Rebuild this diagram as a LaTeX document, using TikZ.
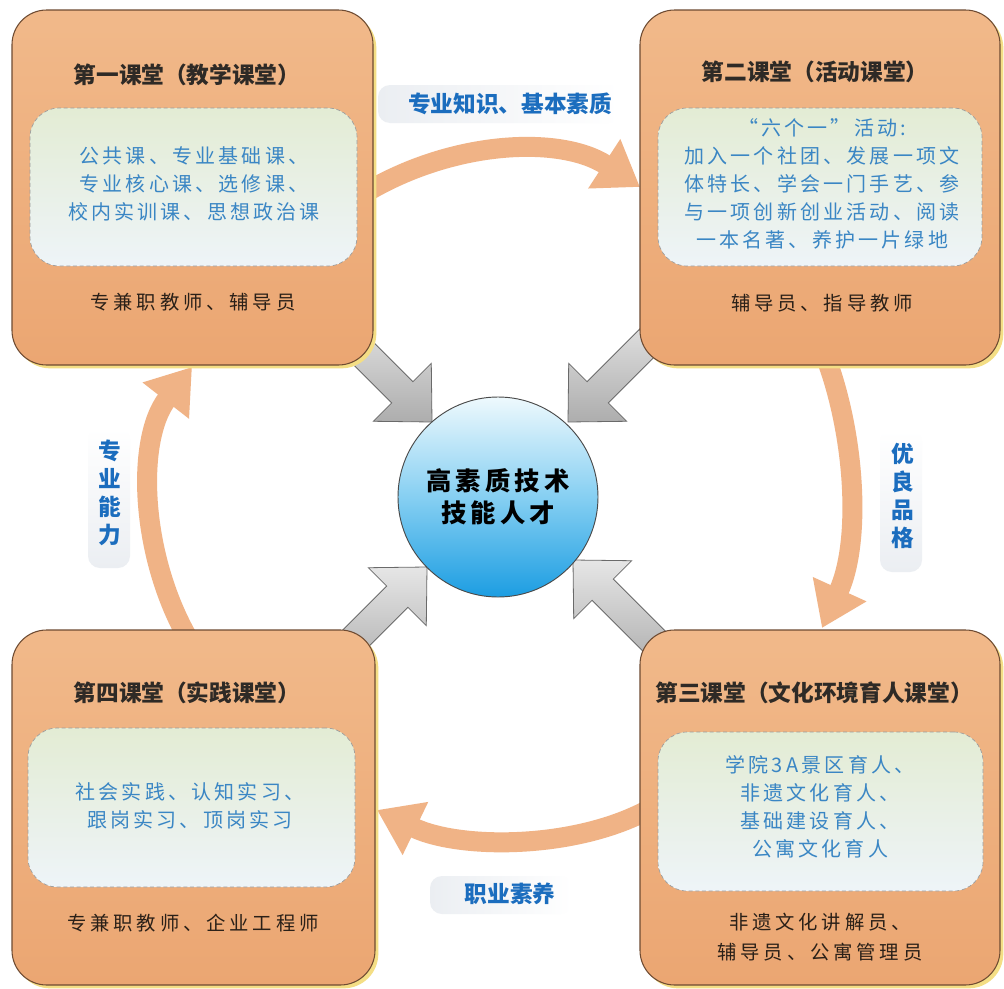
\documentclass[tikz,border=0pt]{standalone}
\usepackage{fontspec}
\setmainfont{Noto Sans CJK SC}
\newfontfamily\spacedfont[LetterSpace=16]{Noto Sans CJK SC}
\newfontfamily\staffont[LetterSpace=20]{Noto Sans CJK SC}
\usetikzlibrary{arrows.meta,shadows,fit}
\definecolor{boxorangetop}{HTML}{F1B98A}
\definecolor{boxorangebot}{HTML}{EBA672}
\definecolor{boxedge}{HTML}{6E4B32}
\definecolor{boxshadow}{HTML}{F4DE85}
\definecolor{innertop}{HTML}{E3ECD4}
\definecolor{innerbot}{HTML}{EEF4F8}
\definecolor{inneredge}{HTML}{9C9C9C}
\definecolor{innertext}{HTML}{3A86C4}
\definecolor{darktext}{HTML}{2A2018}
\definecolor{titlegrey}{HTML}{2E2A26}
\definecolor{labelblue}{HTML}{1B6DBE}
\definecolor{flowarrow}{HTML}{F0B386}
\definecolor{greylight}{HTML}{E6E6E6}
\definecolor{greydark}{HTML}{ADADAD}
\definecolor{greyedge}{HTML}{6A6A6A}
\definecolor{circtop}{HTML}{EEF9FD}
\definecolor{circmid}{HTML}{86CFF2}
\definecolor{circbot}{HTML}{1C9DE2}
\definecolor{circedge}{HTML}{4A4A4A}
\definecolor{labelbg}{HTML}{EBEEF2}
\tikzset{
 classbox/.style={draw=boxedge, line width=0.8pt, rounded corners=26pt, top color=boxorangetop, bottom color=boxorangebot, inner sep=0pt,
   drop shadow={shadow xshift=2.5pt, shadow yshift=-2.5pt, fill=boxshadow, opacity=1}},
 innerbox/.style={draw=inneredge, densely dashed, line width=0.5pt, rounded corners=22pt, top color=innertop, bottom color=innerbot, inner sep=0pt},
 titletext/.style={font=\bfseries\fontsize{17}{20}\selectfont, text=titlegrey},
 innertxt/.style={font=\spacedfont\fontsize{15}{21}\selectfont, text=innertext, align=center},
 stafftext/.style={font=\staffont\fontsize{14.5}{22.5}\selectfont, text=darktext, align=center},
 flowlabel/.style={font=\bfseries\fontsize{17}{21}\selectfont, text=labelblue, align=center},
 labelbgbox/.style={rounded corners=9pt, inner sep=0pt},
 flow/.style={draw=flowarrow, line width=15pt, -{Triangle[width=42pt,length=32pt]}},
 graytip/.style={draw=greyedge, line width=0.6pt, top color=greylight, bottom color=greydark},
 hubcircle/.style={circle, draw=circedge, line width=0.7pt, top color=circtop, bottom color=circbot, middle color=circmid,
   minimum size=150pt, inner sep=0pt, align=center, font=\bfseries\spacedfont\fontsize{19}{24}\selectfont, text=black},
}
\begin{document}
\begin{tikzpicture}[x=0.75pt,y=-0.75pt]
\useasboundingbox (0,0) rectangle (1004,989);
\fill[white] (0,0) rectangle (1004,989);

% flow arrows (orange)
\coordinate (f1s) at (360,196);
\coordinate (f1e) at (640,187);
\coordinate (f2s) at (823,350);
\coordinate (f2e) at (822,628);
\coordinate (f3s) at (655,806);
\coordinate (f3e) at (377,810);
\coordinate (f4s) at (192,645);
\coordinate (f4e) at (192,367);
\draw[flow] (f1s) .. controls (450,140) and (560,135) .. (f1e);
\draw[flow] (f2s) .. controls (855,430) and (862,540) .. (f2e);
\draw[flow] (f3s) .. controls (580,850) and (460,850) .. (f3e);
\draw[flow] (f4s) .. controls (140,560) and (135,440) .. (f4e);

% grey block arrows into the hub
\coordinate (g1) at (432,422);
\coordinate (g2) at (568,422);
\coordinate (g3) at (427,567);
\coordinate (g4) at (573,560);
\foreach \g/\ang in {g1/-45, g2/-135, g3/45, g4/135}{
  \begin{scope}[shift={(\g)}, rotate=\ang]
    \draw[graytip] (0,0) -- (-42,41) -- (-42,15) -- (-140,15) -- (-140,-15) -- (-42,-15) -- (-42,-41) -- cycle;
  \end{scope}
}

% four class boxes
\node[classbox, fit={(12,10) (373,365)}] (b1) {};
\node[classbox, fit={(640,10) (1000,365)}] (b2) {};
\node[classbox, fit={(640,630) (1000,985)}] (b3) {};
\node[classbox, fit={(12,630) (375,985)}] (b4) {};

\node[innerbox, fit={(30,108) (357,266)}] (in1) {};
\node[innerbox, fit={(658,108) (982,266)}] (in2) {};
\node[innerbox, fit={(658,732) (983,891)}] (in3) {};
\node[innerbox, fit={(28,728) (355,887)}] (in4) {};

\node[titletext] (t1) at (187,75) {第一课堂（教学课堂）};
\node[titletext] (t2) at (815,72) {第二课堂（活动课堂）};
\node[titletext] (t3) at (814,693) {第三课堂（文化环境育人课堂）};
\node[titletext] (t4) at (187,693) {第四课堂（实践课堂）};

\node[innertxt] (c1) at (194,184) {公共课、专业基础课、\\专业核心课、选修课、\\校内实训课、思想政治课};
\node[innertxt] (c2) at (822,184) {“六个一”活动:\\加入一个社团、发展一项文\\体特长、学会一门手艺、参\\与一项创新创业活动、阅读\\一本名著、养护一片绿地};
\node[innertxt] (c3) at (820,807) {学院3A景区育人、\\非遗文化育人、\\基础建设育人、\\公寓文化育人};
\node[innertxt] (c4) at (190,806) {社会实践、认知实习、\\跟岗实习、顶岗实习};

\node[stafftext] (s1) at (193,302) {专兼职教师、辅导员};
\node[stafftext] (s2) at (822,303) {辅导员、指导教师};
\node[stafftext] (s3) at (820,937) {非遗文化讲解员、\\辅导员、公寓管理员};
\node[stafftext] (s4) at (193,923) {专兼职教师、企业工程师};

% flow labels
\node[labelbgbox, left color=labelbg, right color=white, fit={(378,85) (620,123)}] (lb1) {};
\node[labelbgbox, top color=white, bottom color=labelbg, fit={(880,430) (922,572)}] (lb2) {};
\node[labelbgbox, left color=labelbg, right color=white, fit={(430,876) (572,914)}] (lb3) {};
\node[labelbgbox, top color=white, bottom color=labelbg, fit={(88,428) (130,568)}] (lb4) {};
\node[flowlabel] (l1) at (510,104) {专业知识、基本素质};
\node[flowlabel] (l2) at (903,496) {优\\良\\品\\格};
\node[flowlabel] (l3) at (510,894) {职业素养};
\node[flowlabel] (l4) at (110,493) {专\\业\\能\\力};

% hub
\node[hubcircle] (hub) at (498,497) {高素质技术\\技能人才};
\end{tikzpicture}
\end{document}
